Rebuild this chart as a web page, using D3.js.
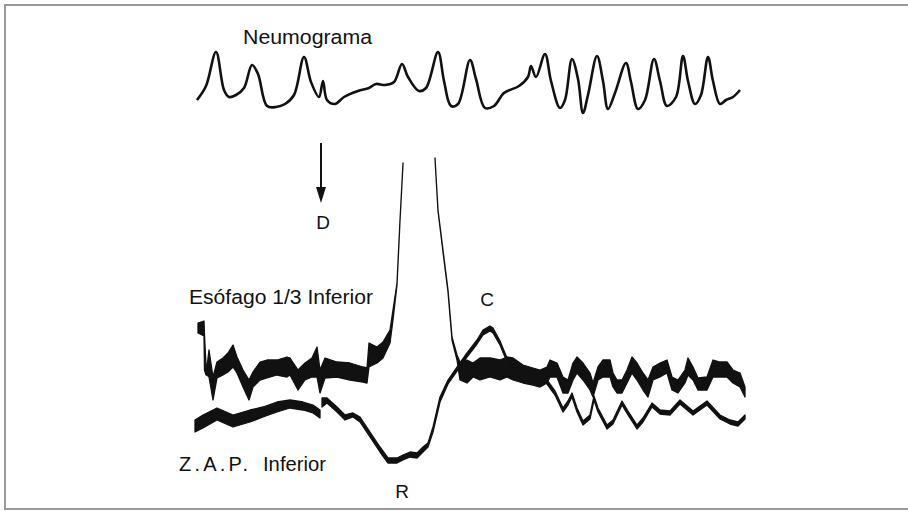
<!doctype html>
<html>
  <head>
    <script src="https://cdnjs.cloudflare.com/ajax/libs/d3/7.8.5/d3.min.js"></script>
  <style>
    body { margin: 0; background: #fff; }
    text { font-family: "Liberation Sans", Arial, Helvetica, sans-serif; fill: #111; }
  </style>
  </head>
  <body>
    <div id="viz">
      <svg style="width:908px;height:511px;display:block;"></svg>
    </div>
    <script>
      const neumoT = [7,16,26,34,39,46,54,62,68,77,86,95,104,114,121,129,133,137,145,154,168,179,186,195,204,212,218,229,236,248,254,261,268,280,286,295,304,314,329,338,341,346,355,361,370,375,382,388,393,398,407,413,418,425,436,441,448,455,464,470,477,486,493,498,505,511,518,523,530,536,543,550];
      const neumoV = [400,414,448,410,403,405,412,435,426,394,393,396,405,443,418,403,419,400,396,403,409,412,416,415,418,436,423,409,412,448,419,394,396,440,421,392,394,407,414,423,434,423,446,419,392,400,441,421,387,405,444,419,391,407,437,418,391,400,441,419,394,403,444,419,396,405,443,419,396,400,403,410];

      // esophagus 1/3 inferior : upper / lower edge of the noisy trace (null = off scale)
      const esoT  = [8,14,14.5,16,17,19,23,27,33,38,43,47,53,59,63,70,77,87,97,100,108,115,122,127,130,135,147,160,173,177,179,187,193,200,203,207,210,213,229,245,248,253,258,262,267,270,277,283,290,300,310,317,323,333,343,350,357,360,367,373,378,383,387,393,400,403,408,413,420,423,427,432,437,442,447,453,458,463,470,477,482,488,495,498,503,508,517,523,530,537,543,550,555];
      const esoHi = [177,179,165,135,133,150,123,138,142,147,155,143,130,120,128,138,140,140,143,142,130,137,142,153,130,142,138,137,133,132,157,153,158,170,190,217,280,337,null,342,290,250,210,163,145,138,140,137,142,142,140,143,142,135,132,130,133,140,137,123,120,137,143,137,127,117,133,140,140,127,120,120,130,143,137,127,120,133,137,140,123,120,130,142,133,122,123,140,138,138,130,127,113];
      const esoLo = [167,164,130,125,125,123,100,122,125,128,133,127,113,100,113,120,122,125,123,125,110,120,123,123,107,122,123,120,118,117,133,137,142,157,180,215,279,336,null,341,289,248,208,160,140,120,117,123,120,123,120,123,120,117,115,113,117,123,123,107,107,120,127,120,110,103,120,123,123,113,107,107,117,127,120,110,103,120,123,127,110,107,117,125,120,110,110,123,123,123,117,113,103];

      // Z.A.P. inferior
      const zapT  = [5,13,27,43,60,73,87,100,113,123,130,131,132,137,147,155,163,170,180,190,198,207,213,220,227,233,238,243,250,258,267,277,287,293,300,303,310,317,323,333,347,357,365,373,378,382,387,393,400,404,408,417,423,432,438,447,453,462,470,480,490,503,517,530,540,548,555];
      const zapHi = [80,85,92,85,90,93,98,100,98,95,90,null,102,102,93,85,87,83,68,53,42,42,45,48,47,53,57,73,103,120,133,147,160,170,174,172,159,142,135,130,125,120,109,92,99,107,92,79,85,104,92,75,80,99,89,75,82,97,90,89,100,89,99,85,80,78,85];
      const zapLo = [68,72,80,73,78,83,88,92,90,87,82,null,93,97,88,80,83,78,63,48,37,37,40,43,42,48,53,68,98,116,129,143,156,165,169,167,155,138,131,126,121,116,105,88,95,103,88,75,81,100,88,71,76,95,85,71,78,93,86,85,96,85,95,81,76,74,81];

      const labelText = ["Neumograma", "D", "Esófago 1/3 Inferior", "C", "Z.A.P.", "Inferior", "R"];
      const labelT    = [53, 133, -1, 297, -11, 73, 212];
      const labelV    = [456, 271, 196, 194, 29, 29, 2];

      const arrowT = 131, arrowFrom = 357, arrowTo = 297;

      const svg = d3.select("svg");
      const x = d3.scaleLinear().domain([0, 560]).range([190, 750]);
      const y = d3.scaleLinear().domain([0, 500]).range([500, 0]);

      // frame
      svg.append("rect")
        .attr("x", 5).attr("y", 5)
        .attr("width", 910).attr("height", 504)
        .style("fill", "none")
        .style("stroke", "#9a9a9a")
        .style("stroke-width", 2);

      // neumograma
      const neumo = neumoT.map((t, i) => ({t: t, v: neumoV[i]}));
      svg.append("path")
        .datum(neumo)
        .attr("d", d3.line().curve(d3.curveCatmullRom.alpha(0.5)).x(d => x(d.t)).y(d => y(d.v)))
        .style("fill", "none")
        .style("stroke", "#111")
        .style("stroke-width", 2.6)
        .style("stroke-linejoin", "round");

      function band(ts, hi, lo) {
        const pts = ts.map((t, i) => ({t: t, hi: hi[i], lo: lo[i]}));
        svg.append("path")
          .datum(pts)
          .attr("d", d3.area()
            .defined(d => d.hi != null)
            .x(d => x(d.t))
            .y0(d => y(d.lo))
            .y1(d => y(d.hi)))
          .style("fill", "#111")
          .style("stroke", "#111")
          .style("stroke-width", 1.3)
          .style("stroke-linejoin", "round");
      }
      band(esoT, esoHi, esoLo);
      band(zapT, zapHi, zapLo);

      // arrow D
      svg.append("line")
        .attr("x1", x(arrowT)).attr("x2", x(arrowT))
        .attr("y1", y(arrowFrom)).attr("y2", y(arrowTo + 14))
        .style("stroke", "#111")
        .style("stroke-width", 2);
      svg.append("path")
        .attr("d", d3.line()([[x(arrowT) - 5, y(arrowTo + 16)], [x(arrowT) + 5, y(arrowTo + 16)], [x(arrowT), y(arrowTo)]]) + "Z")
        .style("fill", "#111");

      // labels
      const sizes = [20.5, 19, 20.5, 19, 20, 20, 19];
      const anchors = ["start", "middle", "start", "middle", "start", "start", "middle"];
      const lengths = [129, null, 184, null, 69, 63, null];
      labelText.forEach((s, i) => {
        const t = svg.append("text")
          .attr("x", x(labelT[i]))
          .attr("y", y(labelV[i]))
          .attr("text-anchor", anchors[i])
          .style("font-size", sizes[i] + "px")
          .text(s);
        if (lengths[i]) {
          t.attr("textLength", lengths[i])
           .attr("lengthAdjust", i == 4 ? "spacing" : "spacingAndGlyphs");
        }
      });
    </script>
  </body>
</html>
